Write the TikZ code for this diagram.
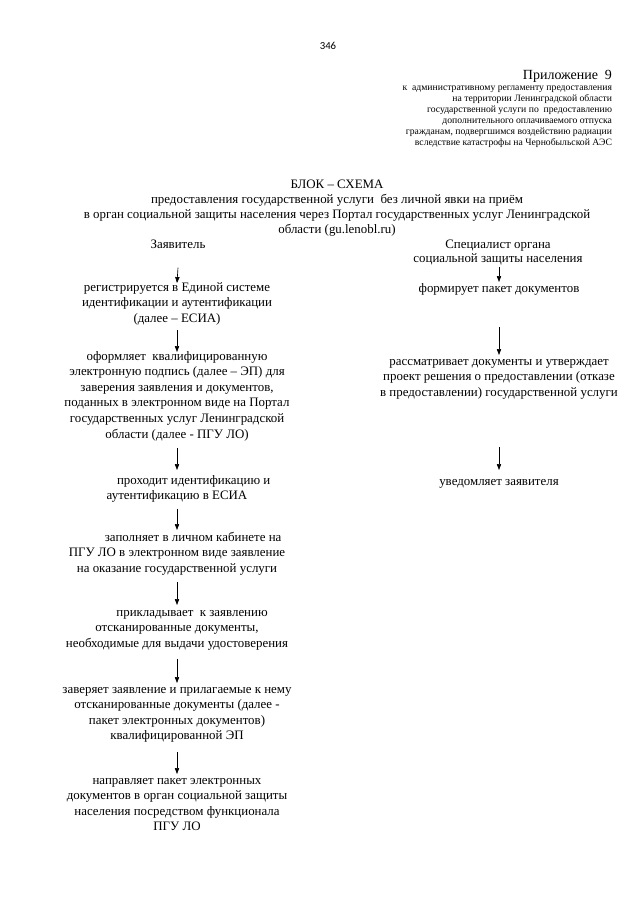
\documentclass[tikz,border=0pt]{standalone}
\usepackage{fontspec}
\setmainfont{Liberation Serif}
\newfontfamily\pagenumfont{Carlito}
\usetikzlibrary{arrows.meta,calc}
\newcommand\bodysize{\fontsize{12}{14.5}\selectfont}
\begin{document}
\begin{tikzpicture}[x=0.9297pt,y=-0.9297pt,
  every node/.style={inner sep=0pt,outer sep=0pt},
  txt/.style={align=center,font=\bodysize,anchor=north},
  arr/.style={line width=0.6pt,-{Triangle[length=5.5pt,width=4pt]}}]
\useasboundingbox (0,0) rectangle (640,905);
\fill[white] (0,0) rectangle (640,905);

\node[font=\pagenumfont\fontsize{10}{12}\selectfont,anchor=base] (pg) at (328,49) {346};

\node[font=\fontsize{13}{15}\selectfont,anchor=base east] (appx) at (612,79) {Приложение~ 9};
\node[font=\fontsize{9}{10.2}\selectfont,align=right,anchor=north east] (reg) at (612,82.5)
 {\strut к~ административному регламенту предоставления\\
  на территории Ленинградской области\\
  государственной услуги по~ предоставлению\\
  дополнительного оплачиваемого отпуска\\
  гражданам, подвергшимся воздействию радиации\\
  вследствие катастрофы на Чернобыльской АЭС};

\node[align=center,font=\fontsize{12}{13.95}\selectfont,anchor=north] (title) at (337,177.5)
 {\strut БЛОК – СХЕМА\\
  предоставления государственной услуги~ без личной явки на приём\\
  в орган социальной защиты населения через Портал государственных услуг Ленинградской\\
  области (gu.lenobl.ru)};

\node[font=\bodysize,anchor=base] (zayav) at (178,248) {\strut Заявитель};
\node[align=center,font=\fontsize{12}{13}\selectfont,anchor=north] (spec) at (498,239)
 {\strut Специалист органа\\ социальной защиты населения\strut};

% left column
\node[txt] (n1) at (177,280.2) {\strut регистрируется в Единой системе\\ идентификации и аутентификации\\ (далее – ЕСИА)\strut};
\node[txt] (n2) at (177,349.2) {\strut оформляет~ квалифицированную\\ электронную подпись (далее – ЭП) для\\ заверения заявления и документов,\\ поданных в электронном виде на Портал\\ государственных услуг Ленинградской\\ области (далее - ПГУ ЛО)\strut};
\node[txt] (n3) at (177,473.2) {\strut\hspace*{31pt}проходит идентификацию и\\ аутентификацию в ЕСИА\strut};
\node[txt] (n4) at (177,530.2) {\strut\hspace*{30pt}заполняет в личном кабинете на\\ ПГУ ЛО в электронном виде заявление\\ на оказание государственной услуги\strut};
\node[txt] (n5) at (177,605.2) {\strut\hspace*{28pt}прикладывает~ к заявлению\\ отсканированные документы,\\ необходимые для выдачи удостоверения\strut};
\node[txt] (n6) at (177,682.2) {\strut заверяет заявление и прилагаемые к нему\\ отсканированные документы (далее -\\ пакет электронных документов)\\ квалифицированной ЭП\strut};
\node[txt] (n7) at (177,773.2) {\strut направляет пакет электронных\\ документов в орган социальной защиты\\ населения посредством функционала\\ ПГУ ЛО\strut};

% right column
\node[txt] (r1) at (499,281.2) {\strut формирует пакет документов\strut};
\node[txt] (r2) at (499,354.2) {\strut рассматривает документы и утверждает\\ проект решения о предоставлении (отказе\\ в предоставлении) государственной услуги\strut};
\node[txt] (r3) at (499,474.2) {\strut уведомляет заявителя\strut};

% arrows left
\draw[arr] ($(zayav.south)+(0,14.9)$) -- ($(n1.north)+(0,2.8)$);
\draw[arr] ($(n1.south)+(0,3.4)$) -- ($(n2.north)+(0,2.8)$);
\draw[arr] ($(n2.south)+(0,5.4)$) -- ($(n3.north)+(0,-3.2)$);
\draw[arr] ($(n3.south)+(0,4.4)$) -- ($(n4.north)+(0,-0.2)$);
\draw[arr] ($(n4.south)+(0,5.4)$) -- ($(n5.north)+(0,-0.2)$);
\draw[arr] ($(n5.south)+(0,7.4)$) -- ($(n6.north)+(0,0.8)$);
\draw[arr] ($(n6.south)+(0,7.4)$) -- ($(n7.north)+(0,0.8)$);
% arrows right
\draw[arr] ($(spec.south)+(1,0)$) -- ($(r1.north)+(0,0.8)$);
\draw[arr] ($(r1.south)+(0,30.4)$) -- ($(r2.north)+(0,0.8)$);
\draw[arr] ($(r2.south)+(0,46.4)$) -- ($(r3.north)+(0,-4.2)$);
\end{tikzpicture}
\end{document}
